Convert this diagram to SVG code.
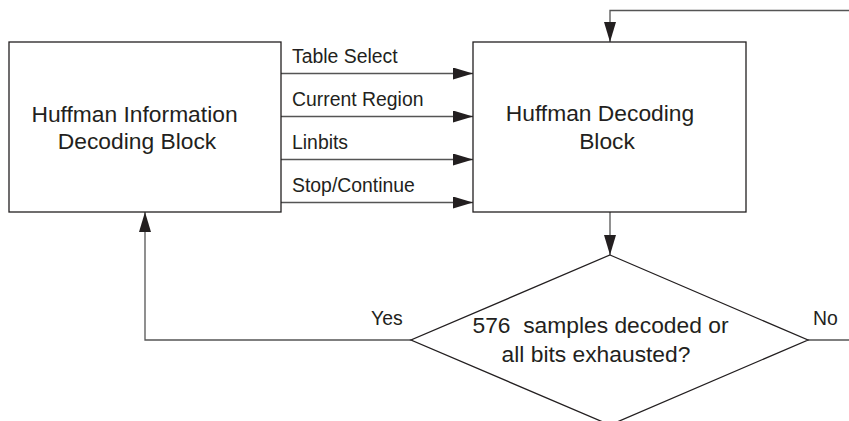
<svg xmlns="http://www.w3.org/2000/svg" width="849" height="421" viewBox="0 0 849 421">
<defs>
<style>
.box{fill:#fff;stroke:#231f20;stroke-width:1.3}
.ln{fill:none;stroke:#555;stroke-width:1.3}
.big{font-family:"Liberation Sans",Arial,sans-serif;font-size:22.8px;fill:#231f20;text-anchor:middle}
.lbl{font-family:"Liberation Sans",Arial,sans-serif;font-size:19.4px;fill:#231f20}
</style>
<marker id="ah" viewBox="0 0 20 12" refX="20" refY="6" markerWidth="20" markerHeight="12" markerUnits="userSpaceOnUse" orient="auto">
<path d="M0,0 L20,6 L0,12 Z" fill="#231f20"/>
</marker>
</defs>
<rect width="849" height="421" fill="#fff"/>
<g id="connectors">
<line class="ln" x1="281" y1="73.5" x2="473" y2="73.5" marker-end="url(#ah)"/>
<line class="ln" x1="281" y1="116.5" x2="473" y2="116.5" marker-end="url(#ah)"/>
<line class="ln" x1="281" y1="159.5" x2="473" y2="159.5" marker-end="url(#ah)"/>
<line class="ln" x1="281" y1="202.5" x2="473" y2="202.5" marker-end="url(#ah)"/>
<polyline class="ln" points="849,10.5 610,10.5 610,42" marker-end="url(#ah)"/>
<line class="ln" x1="610" y1="212" x2="610" y2="255" marker-end="url(#ah)"/>
<polyline class="ln" points="411,340 145,340 145,212" marker-end="url(#ah)"/>
<line class="ln" x1="808" y1="340" x2="849" y2="340"/>
<text class="lbl" x="292" y="63">Table Select</text>
<text class="lbl" x="292" y="106">Current Region</text>
<text class="lbl" x="292" y="149">Linbits</text>
<text class="lbl" x="292" y="192">Stop/Continue</text>
<text class="lbl" x="371" y="325">Yes</text>
<text class="lbl" x="813" y="325">No</text>
</g>
<g id="info-block">
<rect class="box" x="9" y="42" width="272" height="170"/>
<text class="big" x="134.5" y="121.5">Huffman Information</text>
<text class="big" x="137" y="149">Decoding Block</text>
</g>
<g id="decoding-block">
<rect class="box" x="473" y="42" width="273" height="170"/>
<text class="big" x="600" y="121">Huffman Decoding</text>
<text class="big" x="607" y="148.5">Block</text>
</g>
<g id="decision">
<polygon class="box" points="610,255 808,340 610,425 411,340"/>
<text class="big" x="600.5" y="333" xml:space="preserve">576  samples decoded or</text>
<text class="big" x="596" y="361.5">all bits exhausted?</text>
</g>
</svg>
